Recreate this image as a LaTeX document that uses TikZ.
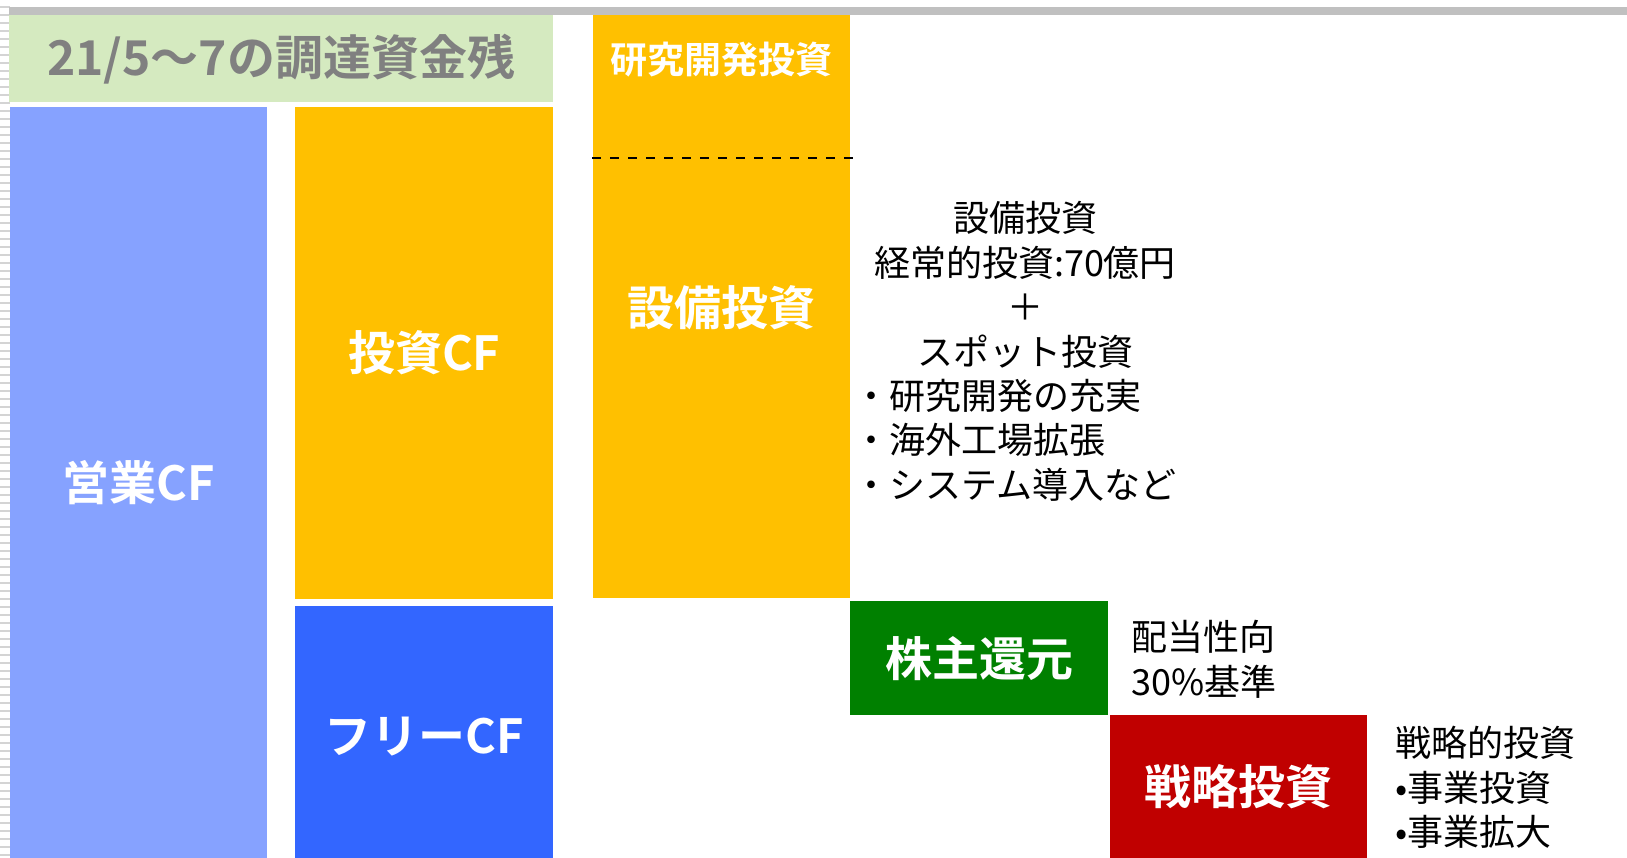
\documentclass[tikz,border=0pt]{standalone}
\usepackage{fontspec}
\setmainfont{Noto Sans CJK JP}[BoldFont={Noto Sans CJK JP Bold}]
\usetikzlibrary{positioning}

\definecolor{titlegreen}{RGB}{213,234,192}
\definecolor{opblue}{RGB}{134,162,255}
\definecolor{invorange}{RGB}{255,192,0}
\definecolor{freeblue}{RGB}{51,102,255}
\definecolor{retgreen}{RGB}{0,128,0}
\definecolor{stratred}{RGB}{192,0,0}
\definecolor{bargray}{RGB}{192,192,192}
\definecolor{stripegray}{RGB}{212,212,212}

\tikzset{
  box/.style={anchor=north west, inner sep=0pt, text=white,
    font=\bfseries\fontsize{47}{56}\selectfont},
  note/.style={inner sep=0pt, font=\fontsize{36}{44.6}\selectfont},
}

\begin{document}
\begin{tikzpicture}[x=1pt, y=-1pt]
\useasboundingbox (0,0) rectangle (1627,858);

% left ruler stripes and top bar
\foreach \y in {6,14,...,854}
  \fill[stripegray] (0,\y) rectangle (10,\y+2);
\fill[bargray] (9,7) rectangle (1627,15);

\node[box, fill=titlegreen, minimum width=544, minimum height=87, text=black!50,
  font=\bfseries\fontsize{48}{56}\selectfont] (title) at (9,15) {21/5～7の調達資金残};

\node[box, fill=opblue, minimum width=257, minimum height=751] (opcf) at (10,107) {営業CF};
\node[box, fill=invorange, minimum width=258, minimum height=492] (invcf) at (295,107) {投資CF};
\node[box, fill=freeblue, minimum width=258, minimum height=252] (freecf) at (295,606) {};
\node[box, anchor=center] (freelabel) at (424,737) {フリーCF};

\node[box, fill=invorange, minimum width=257, minimum height=583] (capex) at (593,15) {};
\draw[dash pattern=on 9pt off 9pt, line width=2.3pt] (592,158) -- (853,158);
\node[box, anchor=center, font=\bfseries\fontsize{37}{44}\selectfont] (rdlabel) at (721,60) {研究開発投資};
\node[box, anchor=center] (capexlabel) at (721,308) {設備投資};

\node[box, fill=retgreen, minimum width=258, minimum height=114] (payout) at (850,601) {株主還元};
\node[box, fill=stratred, minimum width=257, minimum height=143] (strat) at (1110,715) {戦略投資};

% notes
\node[note, align=center] (capexnote) at (1025,285) {設備投資\\経常的投資:70億円\\＋\\スポット投資};
\node[note, align=left, anchor=west] (spotlist) at (853,440) {・研究開発の充実\\・海外工場拡張\\・システム導入など};
\node[note, align=left, anchor=west] (payoutnote) at (1131,659.5) {配当性向\\30\%基準};
\node[note, align=left, anchor=west] (stratnote) at (1395,787.5) {戦略的投資\\•事業投資\\•事業拡大};
\end{tikzpicture}
\end{document}
